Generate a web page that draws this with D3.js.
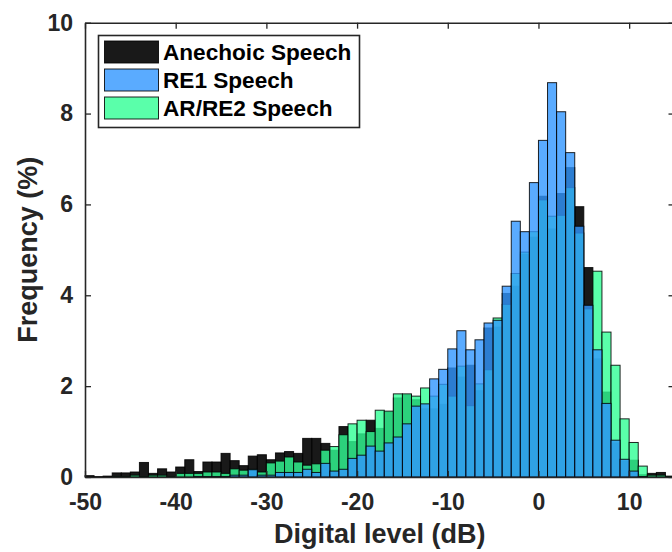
<!DOCTYPE html>
<html>
<head>
<meta charset="utf-8">
<script src="https://cdn.jsdelivr.net/npm/d3@7"></script>
<style>
  html, body { margin: 0; padding: 0; background: #fff; }
  svg { display: block; }
  text { font-family: "Liberation Sans", Arial, Helvetica, sans-serif; font-weight: bold; }
</style>
</head>
<body>
<svg id="chart" width="672" height="552"></svg>
<script>
// Bin lower edges (dB), bin width 1 dB
const binStarts = [-50,-49,-48,-47,-46,-45,-44,-43,-42,-41,-40,-39,-38,-37,-36,-35,-34,-33,-32,-31,
  -30,-29,-28,-27,-26,-25,-24,-23,-22,-21,-20,-19,-18,-17,-16,-15,-14,-13,-12,-11,
  -10,-9,-8,-7,-6,-5,-4,-3,-2,-1,0,1,2,3,4,5,6,7,8,9,10,11,12,13,14];
const binWidth = 1;

// Frequency (%) per bin
const anechoic = [0.03,0.01,0.02,0.09,0.09,0.11,0.32,0.08,0.18,0.11,0.22,0.38,0.12,0.33,0.33,0.52,0.36,0.25,0.46,0.49,
  0.38,0.53,0.56,0.52,0.85,0.85,0.74,0.59,1.11,0.78,0.95,1.25,1.07,1.43,1.74,1.81,1.70,1.50,1.50,1.60,
  2.40,2.20,2.46,1.90,3.28,3.30,4.04,4.20,4.90,5.28,6.18,5.46,6.24,6.81,5.95,4.61,2.60,1.87,0.75,0.35,
  0.37,0.05,0.08,0.10,0.02];
const re1 = [0,0,0,0,0,0,0,0,0,0,0,0,0.01,0.01,0.01,0.01,0.04,0.04,0.16,0.04,
  0.04,0.10,0.10,0.10,0.17,0.10,0.30,0.13,0.17,0.41,0.48,0.68,0.57,0.75,0.88,1.17,1.56,1.61,2.16,2.37,
  2.82,3.22,2.80,3.02,3.39,3.45,4.20,5.63,5.40,6.48,7.41,8.68,8.04,7.14,5.52,3.78,2.80,1.62,0.81,0.39,
  0.13,0.01,0,0,0];
const arre2 = [0,0,0,0.01,0.01,0.04,0.01,0.04,0.04,0.01,0.08,0.08,0.08,0.11,0.11,0.08,0.18,0.15,0.17,0.11,
  0.31,0.35,0.44,0.33,0.26,0.29,0.59,0.67,0.93,1.17,1.25,1.00,1.47,1.45,1.83,1.83,1.78,1.96,1.78,2.04,
  1.78,2.44,1.57,2.05,2.36,3.50,3.80,4.48,4.95,5.40,6.10,5.74,5.76,6.37,5.37,3.70,4.53,3.19,2.46,1.28,
  0.76,0.24,0.04,0.04,0.01];

const seriesNames = ["Anechoic Speech", "RE1 Speech", "AR/RE2 Speech"];
const xTicks = [-50,-40,-30,-20,-10,0,10];
const yTicks = [0,2,4,6,8,10];
const xLabel = "Digital level (dB)";
const yLabel = "Frequency (%)";

// Styles (drawn in order: anechoic, AR/RE2, RE1 on top)
const styles = {
  "Anechoic Speech": { fill: "#000000", opacity: 0.9 },
  "RE1 Speech":      { fill: "#3196ff", opacity: 0.8 },
  "AR/RE2 Speech":   { fill: "#31ff95", opacity: 0.8 }
};
const ink = "#262626";

const svg = d3.select("#chart");
const mLeft = 85, mRight = 674.5, mTop = 22.7, mBottom = 477;
const x = d3.scaleLinear().domain([-50, 15]).range([mLeft, mRight]);
const y = d3.scaleLinear().domain([0, 10]).range([mBottom, mTop]);

const seriesData = {
  "Anechoic Speech": anechoic,
  "RE1 Speech": re1,
  "AR/RE2 Speech": arre2
};
const drawOrder = ["Anechoic Speech", "AR/RE2 Speech", "RE1 Speech"];

const plot = svg.append("g");
drawOrder.forEach(name => {
  const vals = seriesData[name];
  const st = styles[name];
  const data = binStarts.map((b, i) => ({ b, v: vals[i] })).filter(d => d.v > 0);
  plot.append("g").selectAll("rect").data(data).join("rect")
    .attr("x", d => x(d.b))
    .attr("width", d => x(d.b + binWidth) - x(d.b))
    .attr("y", d => y(d.v))
    .attr("height", d => y(0) - y(d.v))
    .attr("fill", st.fill)
    .attr("fill-opacity", st.opacity)
    .attr("stroke", "#000")
    .attr("stroke-opacity", 0.85)
    .attr("stroke-width", 1);
});

// Axes (ticks inward, box on)
function styleAxis(g) {
  g.selectAll(".domain").attr("stroke", ink).attr("stroke-width", 1.6);
  g.selectAll(".tick line").attr("stroke", ink).attr("stroke-width", 1.3);
  g.selectAll(".tick text").attr("fill", ink).attr("font-size", 23)
    .attr("font-family", "'Liberation Sans', Arial, sans-serif").attr("font-weight", "bold");
}
const gx = svg.append("g").attr("transform", `translate(0,${mBottom})`)
  .call(d3.axisBottom(x).tickValues(xTicks).tickSizeInner(-6).tickSizeOuter(0).tickPadding(17).tickFormat(d3.format("d")));
styleAxis(gx);
gx.selectAll(".tick text").text(d => (d < 0 ? "-" + Math.abs(d) : d));
const gt = svg.append("g").attr("transform", `translate(0,${mTop})`)
  .call(d3.axisTop(x).tickValues(xTicks).tickSizeInner(-6).tickSizeOuter(0).tickFormat(""));
styleAxis(gt);
const gy = svg.append("g").attr("transform", `translate(${mLeft},0)`)
  .call(d3.axisLeft(y).tickValues(yTicks).tickSizeInner(-6).tickSizeOuter(0).tickPadding(12));
styleAxis(gy);
const gr = svg.append("g").attr("transform", `translate(${mRight},0)`)
  .call(d3.axisRight(y).tickValues(yTicks).tickSizeInner(-6).tickSizeOuter(0).tickFormat(""));
styleAxis(gr);

// Axis titles
svg.append("text").attr("x", (mLeft + mRight) / 2).attr("y", 543)
  .attr("text-anchor", "middle").attr("font-size", 27).attr("fill", ink).text(xLabel);
svg.append("text").attr("transform", `translate(37,${(mTop + mBottom) / 2}) rotate(-90)`)
  .attr("text-anchor", "middle").attr("font-size", 27).attr("fill", ink).text(yLabel);

// Legend
const lg = svg.append("g");
lg.append("rect").attr("x", 98.5).attr("y", 35.5).attr("width", 261).attr("height", 92)
  .attr("fill", "#fff").attr("stroke", ink).attr("stroke-width", 1.6);
seriesNames.forEach((name, i) => {
  const st = styles[name];
  const yy = 41 + i * 28;
  lg.append("rect").attr("x", 104.5).attr("y", yy).attr("width", 54).attr("height", 22)
    .attr("fill", st.fill).attr("fill-opacity", st.opacity)
    .attr("stroke", "#000").attr("stroke-opacity", 0.85).attr("stroke-width", 1);
  lg.append("text").attr("x", 163).attr("y", yy + 19).attr("font-size", 22.6)
    .attr("fill", "#000").text(name);
});
</script>
</body>
</html>
